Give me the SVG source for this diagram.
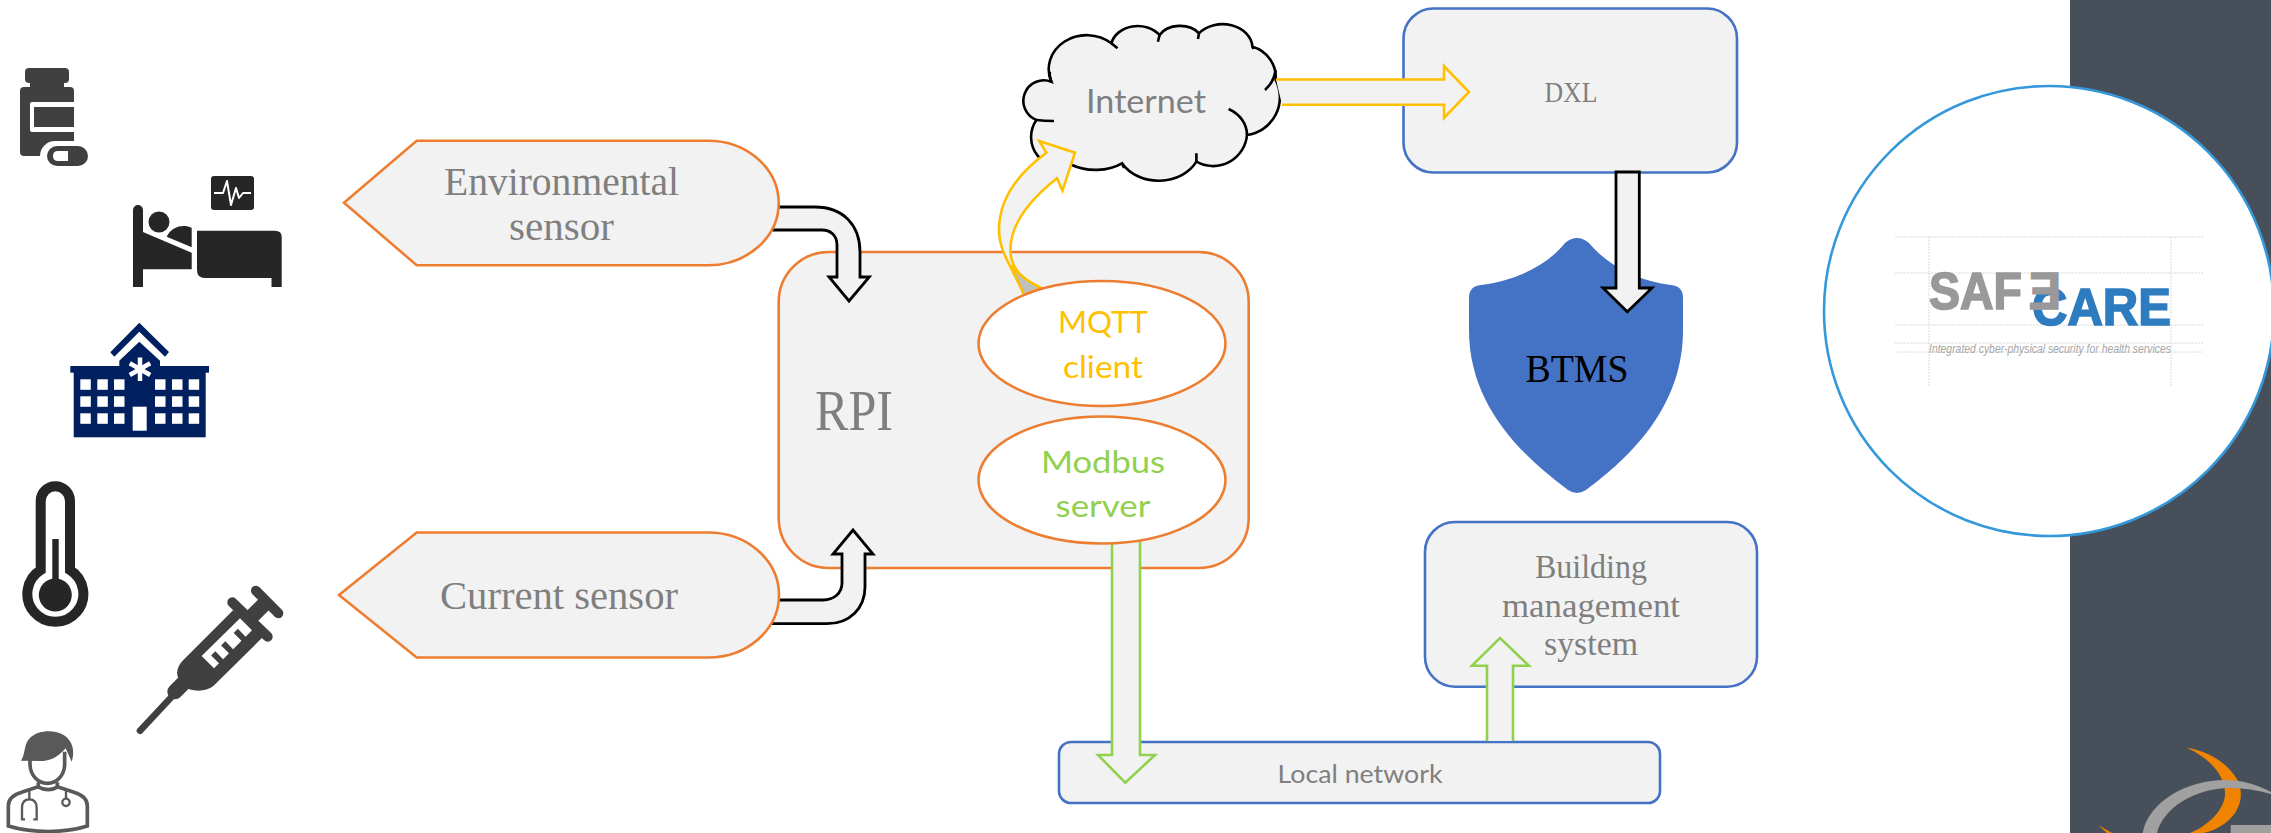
<svg xmlns="http://www.w3.org/2000/svg" width="2271" height="833" viewBox="0 0 2271 833">
<style>
.box{fill:#F2F2F2;stroke-width:2.6}
.or{stroke:#ED7D31}
.bl{stroke:#4472C4}
.ser{font-family:"Liberation Serif",serif;fill:#7F7F7F;text-anchor:middle}
.san{font-family:Lato,"Liberation Sans",sans-serif;fill:#7F7F7F;text-anchor:middle}
.ya{fill:#F2F2F2;stroke:#FFC000;stroke-width:2.6}
.ga{fill:#F2F2F2;stroke:#92D050;stroke-width:2.6}
.ka{fill:#F2F2F2;stroke:#000;stroke-width:2.8}
.cl{fill:none;stroke:#000;stroke-width:2.6}
.guide{stroke:#DADADA;stroke-width:1;stroke-dasharray:2 1;fill:none}
.logo{font-family:"Liberation Sans",sans-serif;font-weight:700;font-size:51px;stroke-width:1.6}
</style>
<rect id="side-panel" x="2070" y="0" width="201" height="833" fill="#47505A"/>
<g id="side-logo">
<path d="M2186.7,747.7 C2205,750 2228,762 2238,781 C2244,795 2241,812 2224,824 Q2212,832 2203,833 L2190,833 C2208,826 2224,810 2225,795 C2226,775 2208,757 2186.7,747.7 Z" fill="#F08300"/>
<path d="M2098,825 L2112,833 L2107,833 Z" fill="#F08300"/>
<path d="M2142.7,833 C2148,803 2185,780 2226,780 C2243,780 2258,785 2271,792 L2271,794 C2258,790 2244,788 2230,788 C2195,788 2163,808 2157,833 Z" fill="#A0A0A0"/>
<rect x="2230.7" y="825" width="41" height="8" fill="#A0A0A0"/>
</g>
<g id="safecare-circle">
<circle cx="2049" cy="311" r="225" fill="#fff" stroke="#3498DB" stroke-width="2.6"/>
<path class="guide" d="M1895,237H2203M1895,273H2203M1895,325H2203M1895,343H2203M1895,352H2203M1929,237V386M2171,237V386"/>
<text class="logo" x="2032" y="325" fill="#2E7CC0" stroke="#2E7CC0" textLength="139" lengthAdjust="spacingAndGlyphs">CARE</text>
<text class="logo" x="1929" y="309" fill="#999999" stroke="#999999" textLength="93" lengthAdjust="spacingAndGlyphs">SAF</text>
<text class="logo" transform="translate(2061,309) scale(-0.95,1)" fill="#999999" stroke="#999999">E</text>
<text x="1929" y="352.5" font-family="Liberation Sans,sans-serif" font-style="italic" font-size="12" fill="#A6A6A6" textLength="242" lengthAdjust="spacingAndGlyphs">Integrated cyber-physical security for health services</text>
</g>
<g id="icon-bottle" fill="#404040">
<rect x="25" y="68" width="44" height="15" rx="4"/>
<rect x="30" y="80" width="34" height="10"/>
<path d="M24,87 H70 Q74,87 74,91 V156 H24 Q20,156 20,152 V91 Q20,87 24,87 Z"/>
<path d="M74,102 H32 Q30,102 30,104 V130 Q30,132 32,132 H74 V127 H34 V107 H74 Z" fill="#fff"/>
<rect x="40" y="141" width="52" height="30" rx="15" fill="#fff"/>
<rect x="47" y="146" width="41" height="20" rx="10"/>
<path d="M68,151 H58 Q53,151 53,156 Q53,161 58,161 H68 Z" fill="#fff"/>
</g>
<g id="icon-bed" fill="#262626">
<rect x="211" y="176" width="43" height="34" rx="3"/>
<polyline points="214,193 223,193 227,181 231,205 236,188 239,198 243,193 251,193" fill="none" stroke="#fff" stroke-width="2" stroke-linejoin="round"/>
<path d="M133,210 A5,5 0 0 1 143,210 V232 L191.700,252.700 V269.300 H143 V287 H133 Z"/>
<circle cx="159" cy="222" r="10.500"/>
<path d="M166.700,236.700 C172,226 184,224 191.700,228 V247.300 Z"/>
<path d="M197,230.700 H275 Q281.700,230.700 281.700,237 V287 H271.500 V278 H205 Q197,278 197,270 Z"/>
</g>
<g id="icon-hospital" fill="#002060">
<polygon points="139.300,322.700 169,352 165,356.700 139.300,331.700 114.300,356.700 110.300,352.300"/>
<polygon points="139.300,341.700 160,360.700 160,367 119.300,367 119.300,360.700"/>
<rect x="70.300" y="366" width="138.700" height="6.700"/>
<rect x="73.700" y="372" width="132" height="65.300"/>
<g fill="#fff">
<rect x="80.300" y="379.300" width="10.500" height="10.500"/><rect x="97.300" y="379.300" width="10.500" height="10.500"/><rect x="114" y="379.300" width="10.500" height="10.500"/><rect x="155" y="379.300" width="10.500" height="10.500"/><rect x="172" y="379.300" width="10.500" height="10.500"/><rect x="188.700" y="379.300" width="10.500" height="10.500"/>
<rect x="80.300" y="396.300" width="10.500" height="10.500"/><rect x="97.300" y="396.300" width="10.500" height="10.500"/><rect x="114" y="396.300" width="10.500" height="10.500"/><rect x="155" y="396.300" width="10.500" height="10.500"/><rect x="172" y="396.300" width="10.500" height="10.500"/><rect x="188.700" y="396.300" width="10.500" height="10.500"/>
<rect x="80.300" y="413.300" width="10.500" height="10.500"/><rect x="97.300" y="413.300" width="10.500" height="10.500"/><rect x="114" y="413.300" width="10.500" height="10.500"/><rect x="155" y="413.300" width="10.500" height="10.500"/><rect x="172" y="413.300" width="10.500" height="10.500"/><rect x="188.700" y="413.300" width="10.500" height="10.500"/>
<rect x="132.700" y="406.700" width="14" height="24"/>
</g>
<path d="M140,357.500V381M129.800,363.300L150.200,375M129.800,375L150.200,363.300" stroke="#fff" stroke-width="4.500" fill="none"/>
</g>
<g id="icon-thermometer">
<path d="M40.700,570 V501 A14.650,14.650 0 0 1 70,501 V570 A28,28 0 1 1 40.700,570 Z" fill="none" stroke="#262626" stroke-width="10"/>
<circle cx="55.300" cy="595" r="16.500" fill="#262626"/>
<rect x="52.300" y="539" width="6.400" height="45" fill="#262626"/>
</g>
<g id="icon-syringe" transform="translate(170,580) scale(0.3333)" fill="#404040">
<path d="M-90,452 L10,345" stroke="#404040" stroke-width="20" stroke-linecap="round"/>
<path d="M15,335 L45,305" stroke="#404040" stroke-width="46" stroke-linecap="round"/>
<path d="M190,90 L40,240 Q18,262 22,285 Q30,330 85,332 Q112,332 130,318 L278,172 Z"/>
<path d="M230,125 L285,70" stroke="#404040" stroke-width="45"/>
<path d="M187,67 L293,170" stroke="#404040" stroke-width="30" stroke-linecap="round"/>
<path d="M258,32 L325,100" stroke="#404040" stroke-width="30" stroke-linecap="round"/>
<polygon fill="#fff" points="95,228 210,115 246,151 227,170 203.500,146.500 191,159 214.500,182.500 189.500,207.500 166,184 153.500,196.500 177,220 159.500,237.500 136,214 123.500,226.500 147,250 132,265"/>
</g>
<g id="icon-doctor" transform="translate(0,720) scale(0.3333)">
<path d="M63,122 C78,100 70,70 92,52 C115,30 165,28 192,46 C218,62 226,95 215,125 L197,85 C180,102 165,120 130,123 Z" fill="#595959"/>
<g fill="none" stroke="#595959" stroke-width="11">
<path d="M90,115 V135 C92,168 115,190 142,190 C170,190 192,168 194,135 V95"/>
<path d="M115,187 V200 L65,217 C38,225 25,238 25,258 V318 C100,340 190,340 262,318 V258 C262,238 248,225 222,217 L172,200 V187"/>
<path d="M112,200 Q145,218 175,200"/>
</g>
<g fill="none" stroke="#595959" stroke-width="7">
<path d="M88,207 V237 M75,298 H66 V264 Q66,238 88,238 Q110,238 110,264 V298 H100"/>
<path d="M198,207 V237"/>
<circle cx="198" cy="247" r="11"/>
</g>
</g>
<g id="rpi">
<rect class="box or" x="778.700" y="252" width="470" height="316" rx="50"/>
<text class="ser" x="854" y="430" font-size="56" textLength="78" lengthAdjust="spacingAndGlyphs">RPI</text>
</g>
<g id="dxl">
<rect class="box bl" x="1403.500" y="8.500" width="333.500" height="164" rx="30"/>
<text class="ser" x="1571" y="101.500" font-size="29" textLength="53" lengthAdjust="spacingAndGlyphs">DXL</text>
</g>
<g id="btms">
<path d="M1565,243 Q1577,233 1589,243 C1610,268 1640,281 1671,285 Q1683,286 1683,298 V330 C1683,400 1640,450 1586,490 Q1577,496 1568,490 C1514,450 1469,400 1469,330 V298 Q1469,286 1481,285 C1512,281 1545,268 1565,243 Z" fill="#4472C4"/>
<text class="ser" x="1577" y="381.500" font-size="41" style="fill:#000" textLength="103" lengthAdjust="spacingAndGlyphs">BTMS</text>
</g>
<g id="bms">
<rect class="box bl" x="1425" y="522" width="332" height="164.700" rx="30"/>
<text class="ser" x="1591" y="578" font-size="33" textLength="112" lengthAdjust="spacingAndGlyphs">Building</text>
<text class="ser" x="1591" y="617" font-size="33" textLength="178" lengthAdjust="spacingAndGlyphs">management</text>
<text class="ser" x="1591" y="655" font-size="33" textLength="94" lengthAdjust="spacingAndGlyphs">system</text>
</g>
<g id="local-network">
<rect class="box bl" x="1059" y="742" width="601" height="61" rx="12"/>
<text class="san" x="1360" y="783" font-size="24.500" textLength="165" lengthAdjust="spacingAndGlyphs">Local network</text>
</g>
<g id="internet">
<path d="M1051.400,81.700 A38,34 0 0 1 1111.400,43.300 A27,22 0 0 1 1159.600,35 A23,17 0 0 1 1199,33.300 A30,24 0 0 1 1252.500,46.700 A32,32 0 0 1 1275.700,80 A38,38 0 0 1 1247,135 A34,34 0 0 1 1196.400,161.700 A42,34 0 0 1 1122,163.300 A40,26 0 0 1 1072,165 A30,30 0 0 1 1036.400,120 A20,20 0 0 1 1051.400,81.700 Z" fill="#F2F2F2" stroke="#000" stroke-width="2.600"/>
<path class="cl" d="M1111.400,43.300 L1117.500,48.300 M1159.600,35 L1157.900,41.700 M1199,33.300 L1198,39 M1252.500,46.700 L1253.500,49 M1275.700,70 Q1274,82 1265,90 M1228.600,109 C1240,114 1247,124 1247,135 M1196.400,161.700 V153.300 M1122,163.300 L1124,168 M1036.400,120 Q1044,121 1054,121 M1051.400,81.700 Q1049,76 1050,71.700"/>
<text class="san" x="1146" y="113" font-size="32" textLength="120" lengthAdjust="spacingAndGlyphs">Internet</text>
</g>
<g id="connectors">
<path class="ya" d="M1276,79.500 H1444 V66 L1469,92 L1444,118 V104.700 H1282"/>
<path class="ka" d="M1616,172 H1639.300 V288 H1652 L1627.300,311.700 L1603,288 H1616 Z"/>
<path class="ga" d="M1112,530 H1140 V755 H1155 L1125.300,782.700 L1098,755 H1112 Z"/>
<path class="ga" d="M1487,741 V665.700 H1472 L1500,638 L1529,665.700 H1513 V741"/>
<path class="ya" d="M1024,293 C1010,265 999,250 999,230 C999,198 1020,172 1046.400,152.700 L1039.300,141 L1075,152.700 L1062.500,190.700 L1057,178.300 C1032,198 1010.400,222 1010.400,250 C1010.400,268 1022,280 1041,288"/>
<path d="M1011,266 Q1024,280 1041,288 L1024,295 Z" fill="#BFBFBF" stroke="#FFC000" stroke-width="2.600"/>
<path class="ka" d="M770,207 H815 C843,207 860,225 860,252 V277 H869.300 L849,301 L829,277 H837 V245 C837,235 830,230 822,230 H770 Z"/>
<path class="ka" d="M770,623.700 H827 C850,623.700 865,608 865,587 V554 H873 L853,530 L833,554 H842 V583 C842,593 834,600 823,600 H770 Z"/>
</g>
<g id="environmental-sensor">
<path class="box or" d="M344,202.700 L416.700,140.700 H708 A70.700,62.300 0 0 1 708,265.300 H416.700 Z"/>
<text class="ser" x="561.500" y="194.500" font-size="39.500" textLength="235" lengthAdjust="spacingAndGlyphs">Environmental</text>
<text class="ser" x="561.500" y="240" font-size="39.500" textLength="105" lengthAdjust="spacingAndGlyphs">sensor</text>
</g>
<g id="current-sensor">
<path class="box or" d="M339,595 L416.700,532.500 H708 A71,62.500 0 0 1 708,657.500 H416.700 Z"/>
<text class="ser" x="559" y="609" font-size="39.500" textLength="238" lengthAdjust="spacingAndGlyphs">Current sensor</text>
</g>
<g id="mqtt-client">
<ellipse cx="1102" cy="343.500" rx="123.500" ry="62.500" fill="#fff" stroke="#ED7D31" stroke-width="2.600"/>
<text class="san" x="1103" y="333" font-size="31" style="fill:#FFC000" textLength="90" lengthAdjust="spacingAndGlyphs">MQTT</text>
<text class="san" x="1103" y="378" font-size="31" style="fill:#FFC000" textLength="80" lengthAdjust="spacingAndGlyphs">client</text>
</g>
<g id="modbus-server">
<ellipse cx="1102" cy="480" rx="123.500" ry="63.500" fill="#fff" stroke="#ED7D31" stroke-width="2.600"/>
<text class="san" x="1103" y="473" font-size="31" style="fill:#92D050" textLength="124" lengthAdjust="spacingAndGlyphs">Modbus</text>
<text class="san" x="1103" y="517" font-size="31" style="fill:#92D050" textLength="95" lengthAdjust="spacingAndGlyphs">server</text>
</g>
</svg>
